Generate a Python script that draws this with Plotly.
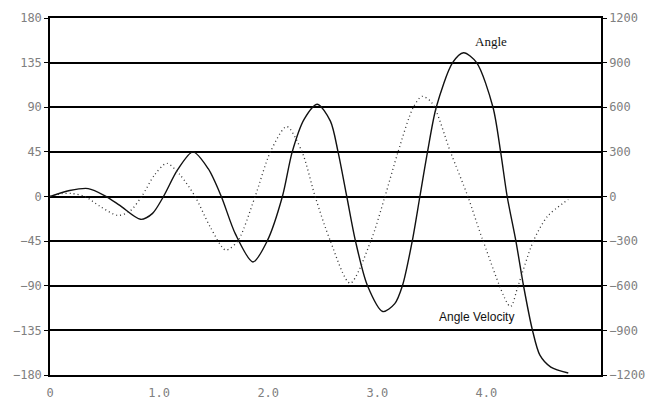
import plotly.graph_objects as go

# Time axis values and the two measured series
angle_t = [0.00, 0.18, 0.35, 0.50, 0.64, 0.83, 0.94, 1.04, 1.17, 1.31, 1.45, 1.57,
           1.70, 1.86, 1.99, 2.13, 2.22, 2.33, 2.45, 2.57, 2.64, 2.72, 2.80, 2.91,
           3.05, 3.16, 3.23, 3.32, 3.39, 3.46, 3.54, 3.69, 3.79, 3.91, 4.06,
           4.13, 4.19, 4.27, 4.34, 4.42, 4.49, 4.59, 4.75]
angle_deg = [0, 6, 8, 1, -9, -23, -17, 0, 27, 45, 28, 0,
             -38, -66, -45, 0, 45, 78, 93, 76, 45, 0, -45, -90,
             -116, -108, -90, -45, 0, 45, 90, 135, 145, 135, 90,
             45, 0, -45, -90, -134, -160, -172, -178]

vel_t = [0.00, 0.11, 0.20, 0.32, 0.46, 0.62, 0.73, 0.84, 0.96, 1.07, 1.19, 1.33,
         1.47, 1.61, 1.72, 1.88, 2.02, 2.17, 2.31, 2.43, 2.57, 2.75, 2.94, 3.07,
         3.19, 3.33, 3.41, 3.50, 3.67, 3.83, 3.97, 4.22, 4.29, 4.43,
         4.56, 4.75]
vel_dps = [0, 20, 20, 0, -67, -127, -100, 0, 147, 223, 147, 0,
           -207, -360, -300, 0, 300, 470, 300, 0, -300, -583, -300, 0,
           300, 600, 673, 630, 300, 0, -300, -740, -600, -300,
           -133, -20]

x_ticks = [0, 1, 2, 3, 4]
x_tick_text = ["0", "1.0", "2.0", "3.0", "4.0"]
left_ticks = [180, 135, 90, 45, 0, -45, -90, -135, -180]
right_ticks = [1200, 900, 600, 300, 0, -300, -600, -900, -1200]

tick_font = dict(family="DejaVu Sans Mono", size=12, color="#808080")

fig = go.Figure()
fig.add_trace(go.Scatter(
    x=angle_t, y=angle_deg, mode="lines", name="Angle",
    line=dict(color="#111111", width=1.4, shape="spline", smoothing=0.8),
    yaxis="y"))
fig.add_trace(go.Scatter(
    x=vel_t, y=vel_dps, mode="lines", name="Angle Velocity",
    line=dict(color="#333333", width=1.3, dash="1px,3px", shape="spline",
              smoothing=0.8),
    yaxis="y2"))

fig.update_layout(
    width=653, height=405,
    margin=dict(l=50, r=52, t=18, b=30),
    paper_bgcolor="white", plot_bgcolor="white",
    showlegend=False,
    xaxis=dict(range=[0, 5.05], tickvals=x_ticks, ticktext=x_tick_text,
               showgrid=False, zeroline=False, showline=True, linecolor="black",
               linewidth=1.5, mirror=True, ticks="", ticklabelstandoff=6,
               automargin=False, tickfont=tick_font),
    yaxis=dict(range=[-180, 180], tickvals=left_ticks, showgrid=True,
               gridcolor="black", gridwidth=1.5, zeroline=False,
               showline=True, linecolor="black", linewidth=1.5,
               ticks="outside", ticklen=4, tickcolor="black",
               automargin=False, tickfont=tick_font),
    yaxis2=dict(range=[-1200, 1200], tickvals=right_ticks, overlaying="y",
                side="right", showgrid=False, zeroline=False, showline=True,
                linecolor="black", linewidth=1.5, ticks="outside", ticklen=4,
                tickcolor="black", automargin=False, tickfont=tick_font),
    annotations=[
        dict(x=4.04, y=156, xref="x", yref="y", text="Angle", showarrow=False,
             font=dict(family="Liberation Serif", size=13, color="#111111")),
        dict(x=3.91, y=-122, xref="x", yref="y", text="Angle Velocity",
             showarrow=False,
             font=dict(family="Liberation Sans", size=12, color="#111111")),
    ],
)

fig.write_html("out.html")
